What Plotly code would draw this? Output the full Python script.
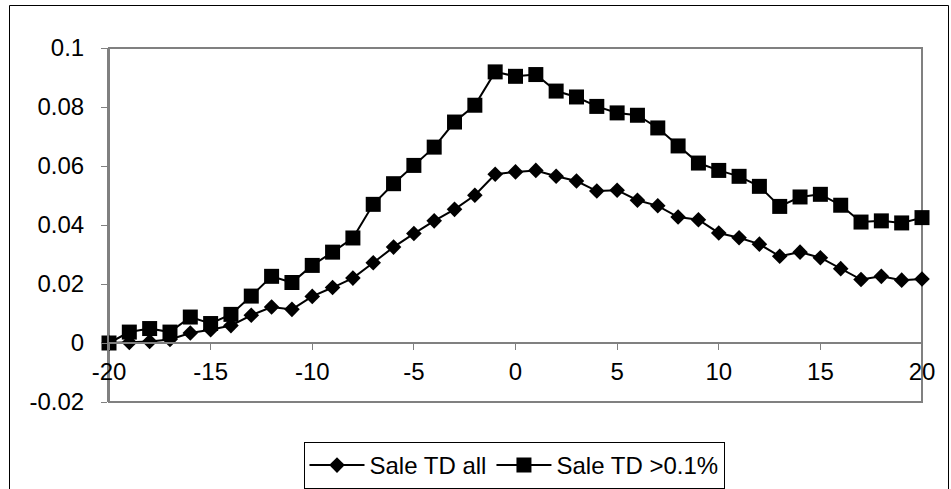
import plotly.graph_objects as go

days = list(range(-20, 21))

sale_td_all = [0.0000, 0.0002, 0.0005, 0.0012, 0.0034, 0.0045, 0.0059, 0.0094, 0.0122, 0.0114,
               0.0158, 0.0188, 0.0220, 0.0272, 0.0325, 0.0371, 0.0414, 0.0453, 0.0501, 0.0572,
               0.0580, 0.0585, 0.0565, 0.0549, 0.0515, 0.0518, 0.0484, 0.0465, 0.0427, 0.0418,
               0.0373, 0.0357, 0.0335, 0.0294, 0.0308, 0.0289, 0.0252, 0.0215, 0.0226, 0.0213,
               0.0217]

sale_td_01 = [0.0000, 0.0037, 0.0049, 0.0037, 0.0088, 0.0066, 0.0097, 0.0159, 0.0226, 0.0205,
              0.0263, 0.0308, 0.0356, 0.0470, 0.0540, 0.0602, 0.0664, 0.0749, 0.0806, 0.0919,
              0.0904, 0.0910, 0.0854, 0.0834, 0.0802, 0.0780, 0.0772, 0.0729, 0.0668, 0.0610,
              0.0585, 0.0565, 0.0531, 0.0463, 0.0495, 0.0504, 0.0467, 0.0410, 0.0414, 0.0407,
              0.0425]

series_names = ["Sale TD all", "Sale TD >0.1%"]

x_ticks = [-20, -15, -10, -5, 0, 5, 10, 15, 20]
y_ticks = [-0.02, 0, 0.02, 0.04, 0.06, 0.08, 0.1]
y_tick_text = ["-0.02", "0", "0.02", "0.04", "0.06", "0.08", "0.1"]

W, H = 951, 489
L, R, T, B = 109, 922, 48, 402  # plot area pixels
FONT = "Liberation Sans, Arial, sans-serif"
FS = 24

def px(xp):
    return (xp - L) / (R - L)

def py(yp):
    return (B - yp) / (B - T)

fig = go.Figure()
fig.add_trace(go.Scatter(
    x=days, y=sale_td_all, name=series_names[0], mode="lines+markers",
    line=dict(color="black", width=2),
    marker=dict(symbol="diamond", size=12, color="black"),
    cliponaxis=False, hoverinfo="skip",
))
fig.add_trace(go.Scatter(
    x=days, y=sale_td_01, name=series_names[1], mode="lines+markers",
    line=dict(color="black", width=2),
    marker=dict(symbol="square", size=15, color="black"),
    cliponaxis=False, hoverinfo="skip",
))

fig.update_layout(
    template="none",
    width=W, height=H, autosize=False,
    margin=dict(l=L, r=W - R, t=T, b=H - B, pad=0, autoexpand=False),
    paper_bgcolor="white", plot_bgcolor="white",
    font=dict(family=FONT, size=FS, color="black"),
    showlegend=True,
    legend=dict(
        orientation="h", x=px(514), y=py(442), xanchor="center", yanchor="top",
        bordercolor="black", borderwidth=1, bgcolor="white",
        font=dict(family=FONT, size=FS, color="black"),
        itemwidth=55, tracegroupgap=0,
    ),
    xaxis=dict(
        range=[-20, 20], tickvals=x_ticks, ticktext=[str(v) for v in x_ticks],
        showgrid=False, zeroline=False, automargin=False,
        showline=True, linecolor="#808080", linewidth=2,
        ticks="outside", ticklen=6, tickwidth=1, tickcolor="#808080",
        ticklabelstandoff=1,
        anchor="free", position=(0 - (-0.02)) / 0.12,
        tickfont=dict(family=FONT, size=FS, color="black"),
    ),
    yaxis=dict(
        range=[-0.02, 0.1], tickvals=y_ticks, ticktext=y_tick_text,
        showgrid=False, zeroline=False, automargin=False,
        showline=True, linecolor="#808080", linewidth=2,
        ticks="outside", ticklen=6, tickwidth=1, tickcolor="#808080",
        ticklabelstandoff=12,
        tickfont=dict(family=FONT, size=FS, color="black"),
    ),
    shapes=[
        dict(type="rect", xref="paper", yref="paper", x0=0, x1=1, y0=0, y1=1,
             line=dict(color="#808080", width=2), layer="below"),
        dict(type="rect", xref="paper", yref="paper",
             x0=px(9.5), x1=px(948.5), y0=py(500), y1=py(5.5),
             line=dict(color="black", width=1), layer="below"),
    ],
)

fig.write_html("out.html", config={"displayModeBar": False, "staticPlot": True},
               post_script="document.body.style.margin='0';document.body.style.overflow='hidden';")
